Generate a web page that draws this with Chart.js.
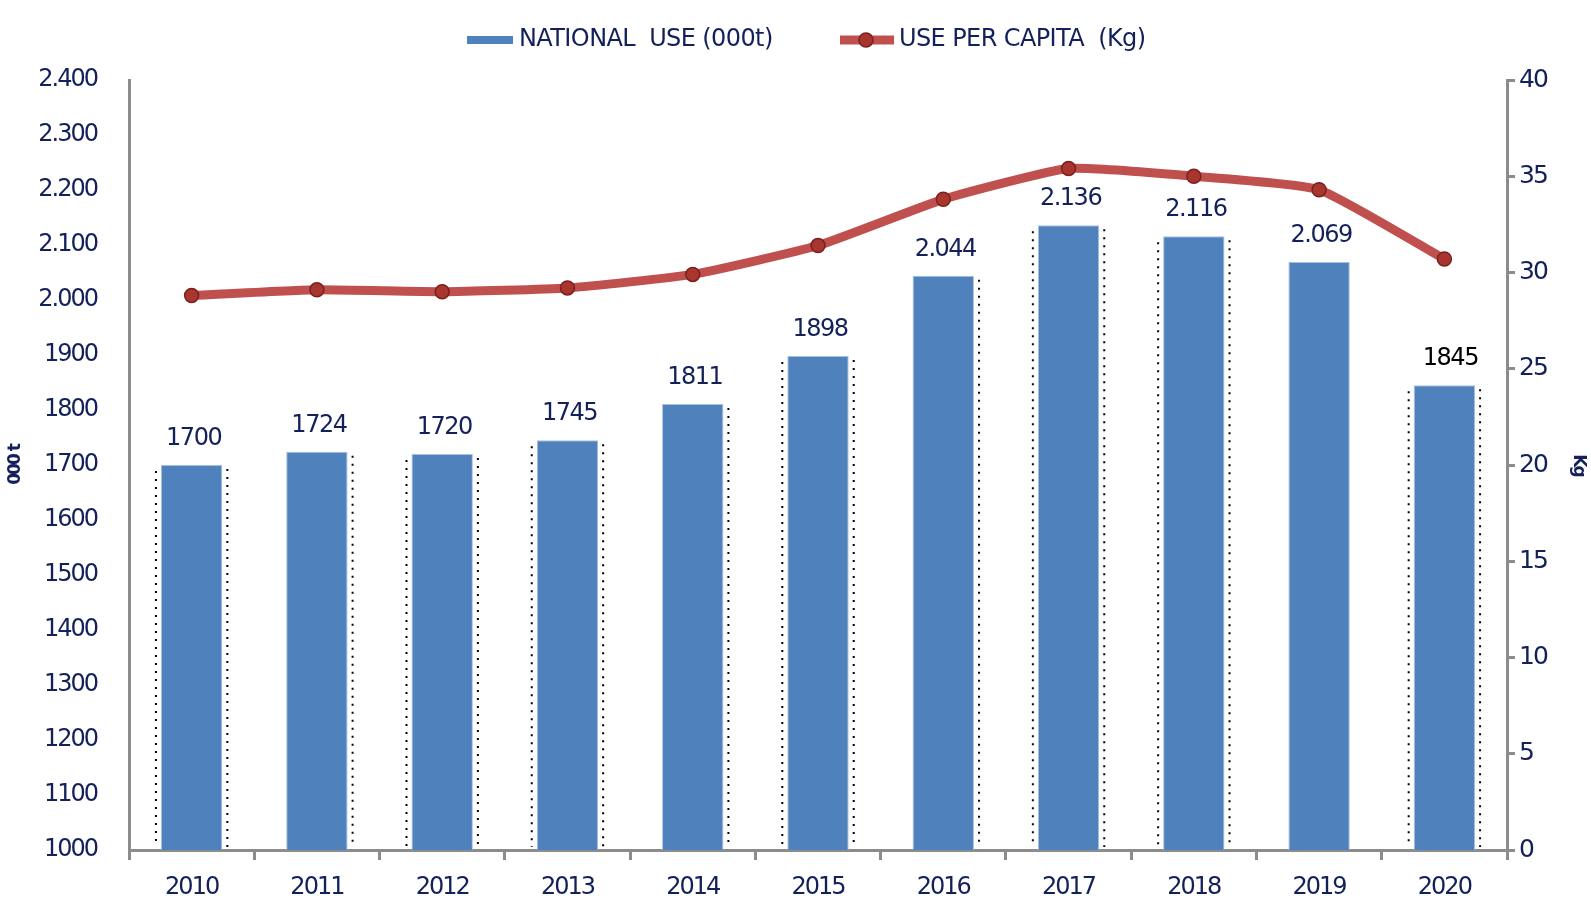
<!DOCTYPE html>
<html>
<head>
<meta charset="utf-8">
<title>National use</title>
<script src="https://cdn.jsdelivr.net/npm/chart.js@4.4.0/dist/chart.umd.min.js"></script>
<style>
  html, body { margin: 0; padding: 0; background: #fff; }
  #chart { display: block; }
</style>
</head>
<body>
<canvas id="chart" width="1591" height="904"></canvas>
<script>
const years = ['2010', '2011', '2012', '2013', '2014', '2015', '2016', '2017', '2018', '2019', '2020'];
const nationalUse = [1700, 1724, 1720, 1745, 1811, 1898, 2044, 2136, 2116, 2069, 1845];
const useLabels = ['1700', '1724', '1720', '1745', '1811', '1898', '2.044', '2.136', '2.116', '2.069', '1845'];
const perCapita = [28.8, 29.1, 29.0, 29.2, 29.9, 31.4, 33.8, 35.4, 35.0, 34.3, 30.7];
const leftTicks = ['1000', '1100', '1200', '1300', '1400', '1500', '1600', '1700', '1800', '1900',
                   '2.000', '2.100', '2.200', '2.300', '2.400'];
const rightTicks = ['0', '5', '10', '15', '20', '25', '30', '35', '40'];
// which side of each bar gets the dotted edge [left, right]
const edgeDots = [[1, 1], [0, 1], [1, 1], [1, 1], [0, 1], [1, 1], [0, 1], [1, 1], [1, 1], [0, 0], [1, 1]];

const NAVY = '#13205a';
const AXIS = '#8c8c8c';
const BLUE = '#4f81bd';
const RED = '#c0504d';
const FONT = "'DejaVu Sans', Verdana, sans-serif";

// tighter glyph spacing for all canvas text
const tightText = {
    id: 'tightText',
    beforeLayout(chart) { chart.ctx.letterSpacing = '-2px'; },
    beforeDraw(chart) { chart.ctx.letterSpacing = '-2px'; }
};

const dottedEdges = {
    id: 'dottedEdges',
    afterDatasetDraw(chart, args) {
        if (args.index !== 0) return;
        const ctx = chart.ctx;
        const bottom = chart.chartArea.bottom;
        ctx.save();
        ctx.strokeStyle = '#000';
        ctx.lineWidth = 2;
        ctx.setLineDash([2, 6]);
        args.meta.data.forEach((bar, i) => {
            const half = bar.width / 2;
            const sides = edgeDots[i];
            if (sides[0]) {
                ctx.beginPath();
                ctx.moveTo(bar.x - half - 5, bar.y + 6);
                ctx.lineTo(bar.x - half - 5, bottom - 3);
                ctx.stroke();
            }
            if (sides[1]) {
                ctx.beginPath();
                ctx.moveTo(bar.x + half + 5, bar.y + 4);
                ctx.lineTo(bar.x + half + 5, bottom - 3);
                ctx.stroke();
            }
        });
        ctx.restore();
    }
};

const barLabels = {
    id: 'barLabels',
    afterDatasetsDraw(chart) {
        const ctx = chart.ctx;
        const meta = chart.getDatasetMeta(0);
        ctx.save();
        ctx.font = '24px ' + FONT;
        ctx.letterSpacing = '-1.5px';
        ctx.textAlign = 'center';
        ctx.textBaseline = 'middle';
        meta.data.forEach((bar, i) => {
            const last = i === meta.data.length - 1;
            ctx.fillStyle = last ? '#000' : NAVY;
            ctx.fillText(useLabels[i], bar.x + (last ? 6 : 2), bar.y - 26);
        });
        ctx.restore();
    }
};

const topLegend = {
    id: 'topLegend',
    afterDraw(chart) {
        const ctx = chart.ctx;
        const y = 40;
        ctx.save();
        ctx.font = '24px ' + FONT;
        ctx.letterSpacing = '-0.6px';
        ctx.textBaseline = 'middle';
        ctx.fillStyle = BLUE;
        ctx.fillRect(467, y - 4, 46, 8);
        ctx.fillStyle = NAVY;
        ctx.fillText(chart.data.datasets[0].label, 519, y);

        ctx.strokeStyle = RED;
        ctx.lineWidth = 9;
        ctx.beginPath();
        ctx.moveTo(840, y);
        ctx.lineTo(894, y);
        ctx.stroke();
        ctx.fillStyle = '#a8362f';
        ctx.strokeStyle = '#7a201d';
        ctx.lineWidth = 1.5;
        ctx.beginPath();
        ctx.arc(866, y, 7, 0, Math.PI * 2);
        ctx.fill();
        ctx.stroke();
        ctx.fillStyle = NAVY;
        ctx.fillText(chart.data.datasets[1].label, 899, y);
        ctx.restore();
    }
};

new Chart(document.getElementById('chart'), {
    data: {
        labels: years,
        datasets: [{
            type: 'bar',
            label: 'NATIONAL  USE (000t)',
            data: nationalUse,
            yAxisID: 'y',
            backgroundColor: BLUE,
            borderColor: '#a8c0df',
            borderWidth: 1,
            barPercentage: 0.49,
            categoryPercentage: 1,
            order: 1
        }, {
            type: 'line',
            label: 'USE PER CAPITA  (Kg)',
            data: perCapita,
            yAxisID: 'y1',
            borderColor: RED,
            borderWidth: 9,
            tension: 0.15,
            pointRadius: 7,
            pointBackgroundColor: '#a8362f',
            pointBorderColor: '#7a201d',
            pointBorderWidth: 1.5,
            order: 0
        }]
    },
    options: {
        responsive: false,
        animation: false,
        devicePixelRatio: 1,
        layout: { padding: { top: 80, left: 0, right: 0, bottom: 0 } },
        plugins: {
            legend: { display: false },
            tooltip: { enabled: false }
        },
        scales: {
            x: {
                offset: true,
                border: { display: true, color: AXIS, width: 3 },
                grid: { offset: true, drawOnChartArea: false, drawTicks: true, tickLength: 10, color: AXIS, lineWidth: 3 },
                ticks: { color: NAVY, font: { family: FONT, size: 24 }, padding: 13, maxRotation: 0 },
                afterFit(scale) { scale.height = 54; }
            },
            y: {
                position: 'left',
                min: 1000,
                max: 2400,
                border: { display: true, color: AXIS, width: 3 },
                grid: { drawOnChartArea: false, drawTicks: false },
                ticks: {
                    stepSize: 100,
                    color: NAVY,
                    font: { family: FONT, size: 24 },
                    padding: 32,
                    callback: (v, i) => leftTicks[i]
                },
                title: {
                    display: true,
                    text: '000 t',
                    color: NAVY,
                    font: { family: FONT, size: 17, weight: 'bold' },
                    padding: { top: 5, bottom: 0 }
                },
                afterFit(scale) { scale.width = 129; }
            },
            y1: {
                position: 'right',
                min: 0,
                max: 40,
                border: { display: true, color: AXIS, width: 3 },
                grid: { drawOnChartArea: false, drawTicks: true, tickLength: 8, color: AXIS, lineWidth: 3 },
                ticks: {
                    stepSize: 5,
                    color: NAVY,
                    font: { family: FONT, size: 25 },
                    padding: 4,
                    callback: (v, i) => rightTicks[i]
                },
                title: {
                    display: true,
                    text: 'Kg',
                    color: NAVY,
                    font: { family: FONT, size: 17, weight: 'bold' },
                    padding: { top: 2, bottom: 0 }
                },
                afterFit(scale) { scale.width = 84; }
            }
        }
    },
    plugins: [tightText, dottedEdges, barLabels, topLegend]
});
</script>
</body>
</html>
